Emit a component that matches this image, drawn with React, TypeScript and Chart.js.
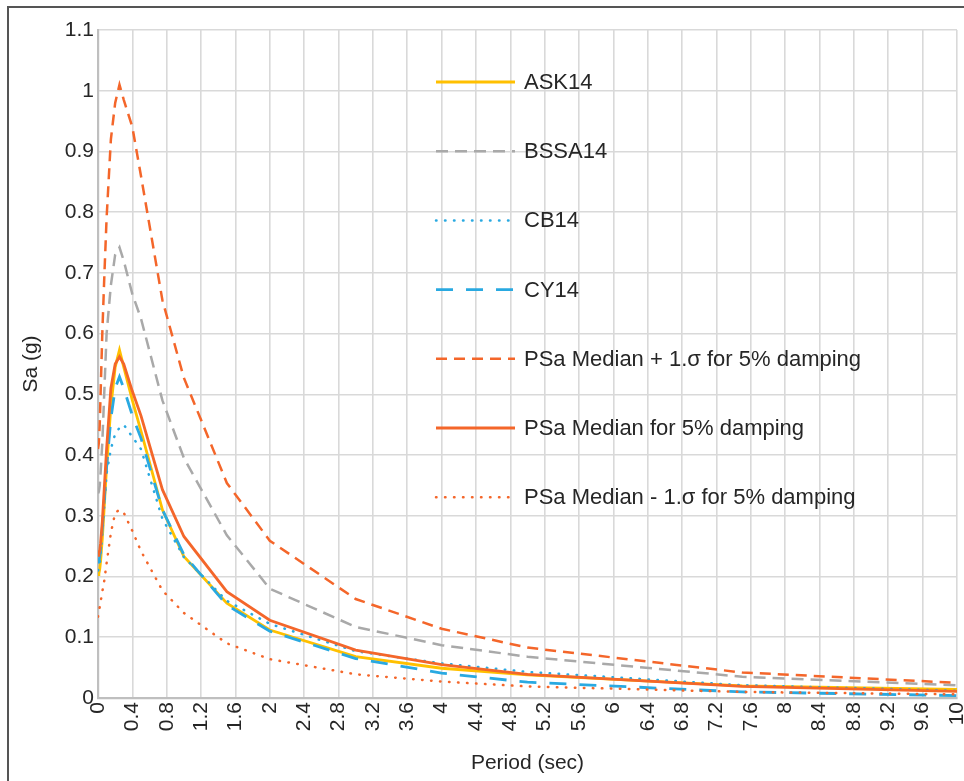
import React, { useEffect, useRef } from "react";
import { Chart, registerables } from "chart.js";

Chart.register(...registerables);

const periods = [0, 0.01, 0.02, 0.03, 0.05, 0.075, 0.1, 0.15, 0.2, 0.25, 0.3, 0.4, 0.5, 0.75, 1, 1.5, 2, 3, 4, 5, 7.5, 10];

const ask14 = [0.203, 0.205, 0.212, 0.225, 0.262, 0.32, 0.38, 0.48, 0.545, 0.573, 0.545, 0.49, 0.44, 0.31, 0.233, 0.156, 0.112, 0.068, 0.049, 0.038, 0.02, 0.014];
const bssa14 = [0.337, 0.34, 0.35, 0.37, 0.42, 0.51, 0.6, 0.68, 0.73, 0.742, 0.72, 0.665, 0.625, 0.49, 0.395, 0.268, 0.18, 0.117, 0.087, 0.068, 0.035, 0.021];
const cb14 = [0.21, 0.212, 0.22, 0.235, 0.27, 0.32, 0.37, 0.41, 0.435, 0.445, 0.45, 0.43, 0.41, 0.295, 0.232, 0.16, 0.122, 0.077, 0.057, 0.043, 0.021, 0.012];
const cy14 = [0.222, 0.224, 0.232, 0.245, 0.28, 0.33, 0.38, 0.46, 0.51, 0.529, 0.51, 0.465, 0.428, 0.31, 0.236, 0.153, 0.11, 0.065, 0.041, 0.026, 0.01, 0.004];
const medianPlus = [0.41, 0.42, 0.45, 0.5, 0.6, 0.7, 0.79, 0.92, 0.98, 1.01, 0.985, 0.94, 0.86, 0.655, 0.527, 0.354, 0.259, 0.163, 0.114, 0.083, 0.042, 0.025];
const median = [0.235, 0.237, 0.243, 0.255, 0.29, 0.35, 0.41, 0.51, 0.55, 0.562, 0.55, 0.505, 0.465, 0.343, 0.266, 0.175, 0.128, 0.079, 0.055, 0.039, 0.019, 0.011];
const medianMinus = [0.134, 0.14, 0.15, 0.158, 0.175, 0.195, 0.222, 0.272, 0.305, 0.31, 0.305, 0.275, 0.242, 0.177, 0.14, 0.09, 0.064, 0.039, 0.027, 0.019, 0.01, 0.006];

const seriesNames = [
  "ASK14",
  "BSSA14",
  "CB14",
  "CY14",
  "PSa Median + 1.σ for 5% damping",
  "PSa Median for 5% damping",
  "PSa Median - 1.σ for 5% damping",
];

const xTickValues = [0, 0.4, 0.8, 1.2, 1.6, 2, 2.4, 2.8, 3.2, 3.6, 4, 4.4, 4.8, 5.2, 5.6, 6, 6.4, 6.8, 7.2, 7.6, 8, 8.4, 8.8, 9.2, 9.6, 10];
const xTickLabels = ["0", "0.4", "0.8", "1.2", "1.6", "2", "2.4", "2.8", "3.2", "3.6", "4", "4.4", "4.8", "5.2", "5.6", "6", "6.4", "6.8", "7.2", "7.6", "8", "8.4", "8.8", "9.2", "9.6", "10"];
const yTickValues = [0, 0.1, 0.2, 0.3, 0.4, 0.5, 0.6, 0.7, 0.8, 0.9, 1, 1.1];
const yTickLabels = ["0", "0.1", "0.2", "0.3", "0.4", "0.5", "0.6", "0.7", "0.8", "0.9", "1", "1.1"];

const xTitle = "Period (sec)";
const yTitle = "Sa (g)";

const FONT = "'Liberation Sans', Arial, Helvetica, sans-serif";
const TEXT = "#262626";
const ORANGE = "#F4662A";
const BLUE = "#29A9E1";
const YELLOW = "#FFC000";
const GRAY = "#A9A9A9";

const toPoints = (ys: number[]) => periods.map((x, i) => ({ x, y: ys[i] }));

const legendPlugin = {
  id: "insideLegend",
  afterDatasetsDraw(chart: any) {
    const { ctx, chartArea } = chart;
    const x0 = chartArea.left + 338;
    const y0 = chartArea.top + 52;
    const step = 69.2;
    chart.data.datasets.forEach((ds: any, i: number) => {
      const y = y0 + i * step;
      ctx.save();
      ctx.strokeStyle = ds.borderColor;
      ctx.lineWidth = ds.borderWidth;
      ctx.setLineDash(ds.borderDash || []);
      ctx.lineCap = ds.borderCapStyle || "butt";
      ctx.beginPath();
      ctx.moveTo(x0, y);
      ctx.lineTo(x0 + 79, y);
      ctx.stroke();
      ctx.setLineDash([]);
      ctx.fillStyle = TEXT;
      ctx.font = `22px ${FONT}`;
      ctx.textBaseline = "middle";
      ctx.textAlign = "left";
      ctx.fillText(ds.label, x0 + 88, y + 1);
      ctx.restore();
    });
  },
};

export default function App() {
  const ref = useRef<HTMLCanvasElement | null>(null);

  useEffect(() => {
    if (!ref.current) return;
    const common = { pointRadius: 0, pointHoverRadius: 0, tension: 0, fill: false };
    const chart = new Chart(ref.current, {
      type: "line",
      data: {
        datasets: [
          { ...common, label: seriesNames[0], data: toPoints(ask14), borderColor: YELLOW, borderWidth: 2.8, borderDash: [], order: 7 },
          { ...common, label: seriesNames[1], data: toPoints(bssa14), borderColor: GRAY, borderWidth: 2.5, borderDash: [12, 7], order: 6 },
          { ...common, label: seriesNames[2], data: toPoints(cb14), borderColor: BLUE, borderWidth: 2.5, borderDash: [0.5, 8.5], borderCapStyle: "round", order: 5 },
          { ...common, label: seriesNames[3], data: toPoints(cy14), borderColor: BLUE, borderWidth: 2.8, borderDash: [17, 13], order: 4 },
          { ...common, label: seriesNames[4], data: toPoints(medianPlus), borderColor: ORANGE, borderWidth: 2.5, borderDash: [11, 7], order: 3 },
          { ...common, label: seriesNames[5], data: toPoints(median), borderColor: ORANGE, borderWidth: 2.8, borderDash: [], order: 2 },
          { ...common, label: seriesNames[6], data: toPoints(medianMinus), borderColor: ORANGE, borderWidth: 2.5, borderDash: [0.5, 8.5], borderCapStyle: "round", order: 1 },
        ] as any,
      },
      options: {
        responsive: false,
        animation: false,
        devicePixelRatio: 1,
        layout: { padding: { left: 8, right: 7, top: 30, bottom: 0 } },
        plugins: { legend: { display: false }, tooltip: { enabled: false }, title: { display: false } },
        scales: {
          x: {
            type: "linear",
            min: 0,
            max: 10,
            afterBuildTicks: (s: any) => {
              s.ticks = xTickValues.map((v) => ({ value: v }));
            },
            afterFit: (s: any) => {
              s.height = 83;
              s.paddingLeft = 0;
              s.paddingRight = 0;
            },
            ticks: {
              autoSkip: false,
              minRotation: 90,
              maxRotation: 90,
              padding: 4,
              color: TEXT,
              font: { family: FONT, size: 21 },
              callback: (_v: any, i: number) => xTickLabels[i],
            },
            grid: { color: "#d9d9d9", lineWidth: 1.6, drawTicks: false },
            border: { color: "#bfbfbf", width: 2.2 },
            title: {
              display: true,
              text: xTitle,
              color: TEXT,
              font: { family: FONT, size: 21 },
              padding: { top: 0, bottom: 5 },
            },
          },
          y: {
            type: "linear",
            min: 0,
            max: 1.1,
            afterBuildTicks: (s: any) => {
              s.ticks = yTickValues.map((v) => ({ value: v }));
            },
            afterFit: (s: any) => {
              s.width = 90;
              s.paddingTop = 0;
              s.paddingBottom = 0;
            },
            ticks: {
              autoSkip: false,
              padding: 4,
              color: TEXT,
              font: { family: FONT, size: 21 },
              callback: (_v: any, i: number) => yTickLabels[i],
            },
            grid: { color: "#d9d9d9", lineWidth: 1.6, drawTicks: false },
            border: { color: "#bfbfbf", width: 2.2 },
            title: {
              display: true,
              text: yTitle,
              color: TEXT,
              font: { family: FONT, size: 21 },
              padding: { top: 11, bottom: 0 },
            },
          },
        },
      },
      plugins: [legendPlugin],
    } as any);
    return () => chart.destroy();
  }, []);

  return (
    <div style={{ position: "fixed", left: 0, top: 0, width: 964, height: 781, overflow: "hidden", background: "#fff" }}>
      <div
        style={{
          position: "absolute",
          left: 7,
          top: 6,
          width: 1000,
          height: 1000,
          border: "2px solid #555",
          boxSizing: "border-box",
        }}
      />
      <canvas ref={ref} width={964} height={781} style={{ position: "absolute", left: 0, top: 0, width: 964, height: 781 }} />
    </div>
  );
}
